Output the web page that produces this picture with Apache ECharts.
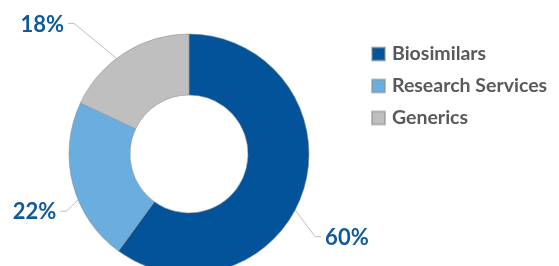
<!DOCTYPE html>
<html>
<head>
<meta charset="utf-8">
<script src="https://cdn.jsdelivr.net/npm/echarts@6/dist/echarts.min.js"></script>
<style>
  html, body { margin: 0; padding: 0; background: #fff; }
  #chart { width: 559px; height: 266px; }
</style>
</head>
<body>
<div id="chart"></div>
<script>
// segment data
const categories = ["Biosimilars", "Research Services", "Generics"];
const shares = [60, 22, 18];
const colors = ["#03539a", "#6aaee0", "#bfbfbf"];

// donut geometry (px) and leader line bends, relative to slice middle
const CX = 189, CY = 154, R_IN = 59, R_OUT = 120;
const leaders = [[41, 55], [-36, 35], [-67, -55]];
const tail = 6;

const total = shares.reduce((a, b) => a + b, 0);
const midAngles = [];
let acc = 0;
shares.forEach(v => {
  // clockwise from 12 o'clock, degrees
  midAngles.push(90 - (acc + v / 2) / total * 360);
  acc += v;
});

const chart = echarts.init(document.getElementById("chart"));

chart.setOption({
  animation: false,
  legend: {
    orient: "vertical",
    left: 366,
    top: 39,
    itemWidth: 13,
    itemHeight: 13,
    itemGap: 12,
    icon: "rect",
    data: categories,
    textStyle: {
      fontFamily: "Lato",
      fontWeight: "bold",
      fontSize: 19.5,
      lineHeight: 20,
      color: "#595959",
      padding: [0, 0, 0, 2]
    }
  },
  series: [
    {
      type: "pie",
      center: [CX, CY],
      radius: [R_IN, R_OUT],
      startAngle: 90,
      clockwise: true,
      itemStyle: {
        borderColor: "rgba(140,140,140,0.55)",
        borderWidth: 1
      },
      label: {
        show: true,
        position: "outside",
        formatter: "{c}%",
        overflow: "none",
        width: 60,
        fontFamily: "Lato",
        fontWeight: "bold",
        fontSize: 22,
        color: "#0e5a9c"
      },
      labelLine: {
        show: true,
        length: 10,
        length2: 6,
        lineStyle: { color: "#bfbfbf", width: 1 }
      },
      labelLayout: function (params) {
        const i = params.dataIndex;
        const a = midAngles[i] * Math.PI / 180;
        const rm = (R_IN + R_OUT) / 2;
        const sx = CX + rm * Math.cos(a);
        const sy = CY - rm * Math.sin(a);
        const bx = sx + leaders[i][0];
        const by = sy + leaders[i][1];
        const right = leaders[i][0] > 0;
        const ex = bx + (right ? tail : -tail);
        return {
          x: ex + (right ? 4 : -4),
          y: by + 1,
          align: right ? "left" : "right",
          verticalAlign: "middle",
          labelLinePoints: [[sx, sy], [bx, by], [ex, by]]
        };
      },
      data: categories.map((name, i) => ({
        name: name,
        value: shares[i],
        itemStyle: { color: colors[i] }
      }))
    }
  ]
});
</script>
</body>
</html>
